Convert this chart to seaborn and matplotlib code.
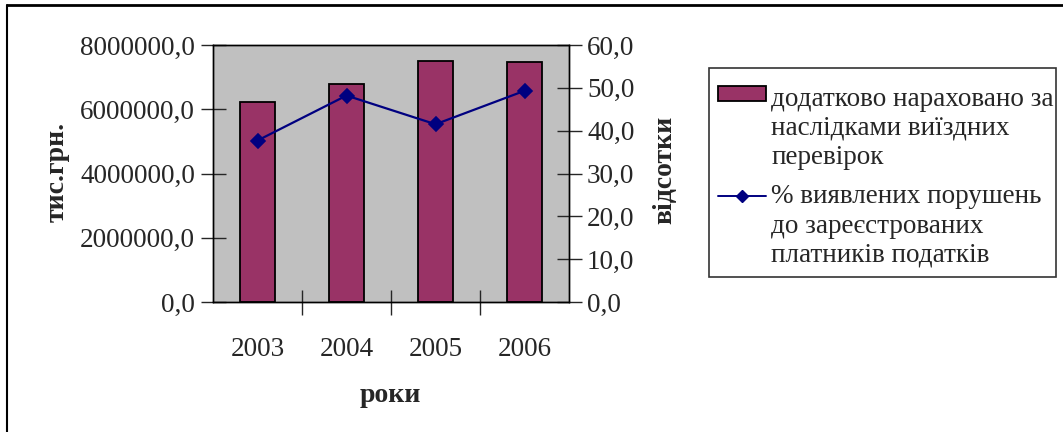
import matplotlib
matplotlib.use("Agg")
import matplotlib.pyplot as plt
import seaborn as sns
import pandas as pd
from matplotlib.ticker import FuncFormatter, FixedLocator
from matplotlib.lines import Line2D
from matplotlib.patches import Rectangle
from matplotlib.legend_handler import HandlerPatch

years = ["2003", "2004", "2005", "2006"]
additional_charged = [6226000, 6795000, 7510000, 7460000]
violations_pct = [37.7, 48.2, 41.5, 49.3]
bar_label = ["додатково нараховано за", "наслідками виїздних", "перевірок"]
line_label = ["% виявлених порушень", "до зареєстрованих", "платників податків"]

sns.set_style("white")
plt.rcParams["font.family"] = ["Liberation Serif", "DejaVu Serif"]

df = pd.DataFrame({"year": years, "value": additional_charged, "pct": violations_pct})

fig = plt.figure(figsize=(10.63, 4.32), dpi=100)
ax = fig.add_axes([213/1063, 1-302/432, 356/1063, 257/432])
ax.set_facecolor("#c0c0c0")

sns.barplot(data=df, x="year", y="value", color="#993366", width=0.4,
            edgecolor="black", linewidth=1.3, saturation=1, ax=ax)
ax.set_ylim(0, 8000000)
ax.set_xlim(-0.5, 3.5)
ax.yaxis.set_major_locator(FixedLocator([0, 2000000, 4000000, 6000000, 8000000]))
fmt = FuncFormatter(lambda v, p: f"{v:.1f}".replace(".", ","))
ax.yaxis.set_major_formatter(fmt)

ax2 = ax.twinx()
sns.pointplot(data=df, x="year", y="pct", color="#000080", markers="D",
              markersize=7, linewidth=1.6, ax=ax2)
ax2.set_ylim(0, 60)
ax2.set_xlim(-0.5, 3.5)
ax2.yaxis.set_major_locator(FixedLocator([0, 10, 20, 30, 40, 50, 60]))
ax2.yaxis.set_major_formatter(fmt)

for a in (ax, ax2):
    for s in a.spines.values():
        s.set_color("black")
        s.set_linewidth(1.0)
    a.set_xlabel("")
    a.set_ylabel("")

ax.tick_params(axis="y", direction="inout", length=18, width=1, labelsize=19.5, pad=4, left=True)
ax2.tick_params(axis="y", direction="inout", length=18, width=1, labelsize=19.5, pad=4, right=True)
ax.tick_params(axis="x", which="major", length=0, labelsize=19.5, pad=25)
ax.set_xticks([0.5, 1.5, 2.5], minor=True)
ax.tick_params(axis="x", which="minor", direction="inout", length=18, width=1, bottom=True)
ax2.tick_params(axis="x", length=0)

fig.text(57/1063, 1-172/432, "тис.грн.", rotation=90, ha="center", va="center",
         fontsize=20, fontweight="bold")
fig.text(665/1063, 1-170/432, "відсотки", rotation=90, ha="center", va="center",
         fontsize=20, fontweight="bold")
fig.text(390/1063, 1-395/432, "роки", ha="center", va="center",
         fontsize=20, fontweight="bold")


def tall_rect(legend, orig_handle, xdescent, ydescent, width, height, fontsize):
    h = 10.5  # points
    yc = -ydescent + height / 2 + 1.5
    return Rectangle((-xdescent, yc - h / 2), width, h)


blank = Line2D([], [], linestyle="none")
bar_handle = Rectangle((0, 0), 1, 1, facecolor="#993366", edgecolor="black", linewidth=1.3)
line_handle = Line2D([], [], color="#000080", marker="D", markersize=6, linewidth=1.4)
handles = [bar_handle, blank, blank, line_handle, blank, blank]
labels = bar_label[:2] + [bar_label[2] + "\n "] + line_label
leg = fig.legend(handles, labels, loc="upper left", mode="expand",
                 bbox_to_anchor=(709/1063, 1-277/432, 347/1063, 209/432),
                 fontsize=19.5, frameon=True, fancybox=False, edgecolor="black",
                 borderpad=0.35, handlelength=1.75, handleheight=0.1,
                 handletextpad=0.2, labelspacing=0.15, borderaxespad=0,
                 title=" ", title_fontsize=5,
                 handler_map={Rectangle: HandlerPatch(patch_func=tall_rect)})
leg.get_texts()[2].set_linespacing(0.25)
leg.get_frame().set_linewidth(1.2)

fig.add_artist(Line2D([7/1063, 1.0], [1-5/432, 1-5/432], color="black", linewidth=2,
                      transform=fig.transFigure))
fig.add_artist(Line2D([7/1063, 7/1063], [0, 1-5/432], color="black", linewidth=1.5,
                      transform=fig.transFigure))

fig.savefig("out.png", dpi=100)
